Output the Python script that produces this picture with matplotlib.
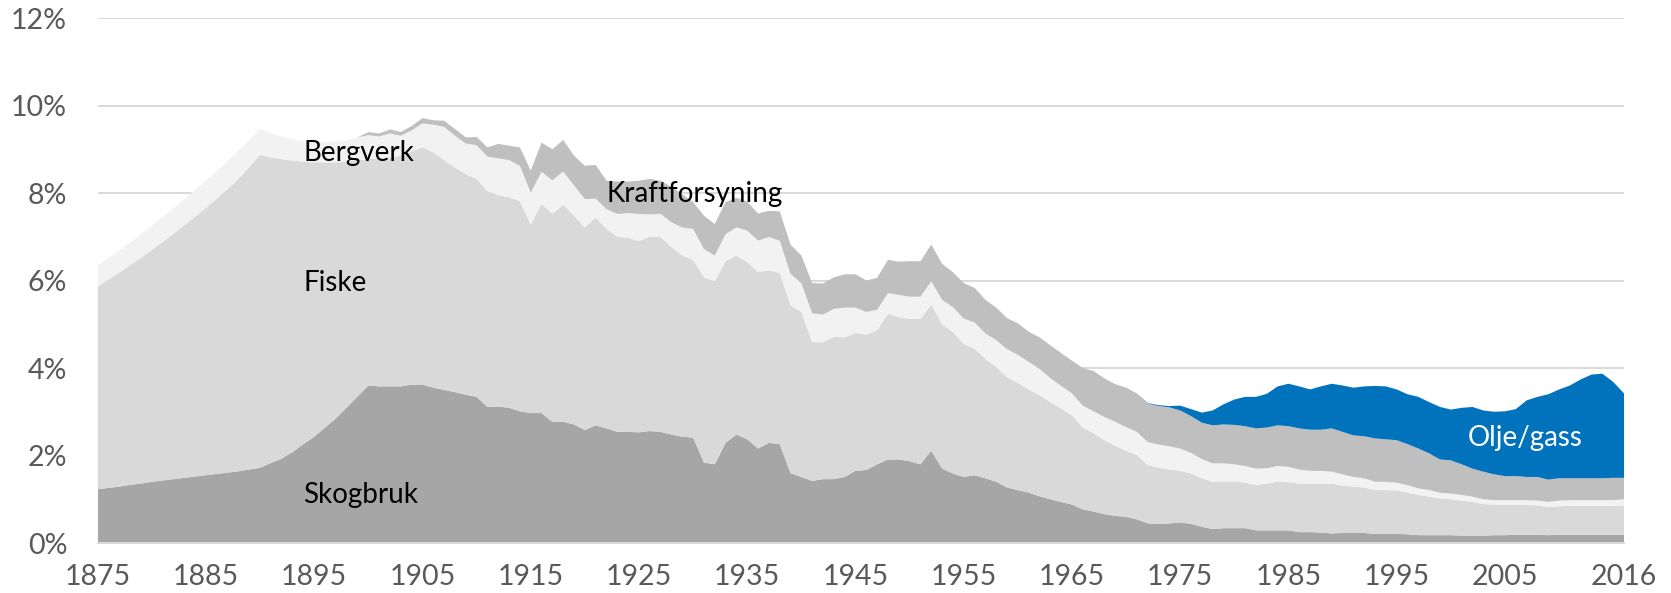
import matplotlib
matplotlib.use("Agg")
import matplotlib.pyplot as plt
from matplotlib.ticker import FuncFormatter

plt.rcParams['font.family'] = ['Lato', 'DejaVu Sans']

years = list(range(1875, 2017))

skogbruk = [
    1.24, 1.27, 1.30, 1.34, 1.37, 1.41, 1.44, 1.47, 1.50, 1.53,
    1.56, 1.59, 1.62, 1.65, 1.69, 1.73, 1.84, 1.94, 2.09, 2.27,
    2.44, 2.65, 2.86, 3.11, 3.36, 3.61, 3.59, 3.59, 3.59, 3.63,
    3.63, 3.56, 3.51, 3.46, 3.40, 3.35, 3.12, 3.13, 3.10, 3.02,
    2.98, 2.98, 2.78, 2.78, 2.72, 2.59, 2.70, 2.63, 2.55, 2.55,
    2.54, 2.57, 2.55, 2.49, 2.44, 2.42, 1.85, 1.81, 2.30, 2.49,
    2.38, 2.17, 2.30, 2.27, 1.61, 1.52, 1.43, 1.47, 1.47, 1.52,
    1.66, 1.68, 1.81, 1.92, 1.92, 1.88, 1.81, 2.12, 1.71, 1.60,
    1.52, 1.56, 1.49, 1.41, 1.28, 1.22, 1.16, 1.08, 1.01, 0.95,
    0.89, 0.78, 0.73, 0.67, 0.63, 0.61, 0.55, 0.46, 0.45, 0.46,
    0.48, 0.45, 0.38, 0.33, 0.35, 0.35, 0.35, 0.30, 0.30, 0.30,
    0.30, 0.26, 0.26, 0.25, 0.23, 0.24, 0.24, 0.24, 0.22, 0.22,
    0.22, 0.21, 0.19, 0.19, 0.19, 0.19, 0.18, 0.18, 0.18, 0.19,
    0.19, 0.20, 0.20, 0.20, 0.19, 0.20, 0.20, 0.20, 0.20, 0.20,
    0.20, 0.20,
]

fiske = [
    4.63, 4.76, 4.89, 5.02, 5.16, 5.30, 5.45, 5.61, 5.77, 5.94,
    6.11, 6.29, 6.48, 6.68, 6.91, 7.15, 6.98, 6.84, 6.66, 6.45,
    6.27, 6.06, 5.85, 5.62, 5.40, 5.17, 5.21, 5.23, 5.27, 5.33,
    5.42, 5.38, 5.25, 5.13, 5.04, 4.98, 4.93, 4.83, 4.81, 4.80,
    4.31, 4.78, 4.75, 4.96, 4.77, 4.63, 4.75, 4.56, 4.46, 4.43,
    4.37, 4.44, 4.45, 4.28, 4.14, 4.06, 4.23, 4.18, 4.15, 4.09,
    4.05, 4.03, 3.94, 3.91, 3.83, 3.77, 3.17, 3.13, 3.25, 3.19,
    3.15, 3.09, 3.06, 3.33, 3.25, 3.25, 3.32, 3.34, 3.30, 3.23,
    3.04, 2.89, 2.73, 2.62, 2.52, 2.45, 2.36, 2.31, 2.22, 2.13,
    2.04, 1.87, 1.79, 1.69, 1.60, 1.51, 1.47, 1.33, 1.28, 1.23,
    1.18, 1.15, 1.11, 1.08, 1.07, 1.07, 1.04, 1.03, 1.07, 1.11,
    1.10, 1.11, 1.10, 1.11, 1.14, 1.08, 1.06, 1.04, 1.00, 1.00,
    0.99, 0.95, 0.92, 0.88, 0.84, 0.82, 0.80, 0.77, 0.72, 0.70,
    0.69, 0.68, 0.68, 0.67, 0.64, 0.65, 0.66, 0.66, 0.66, 0.66,
    0.66, 0.67,
]

bergverk = [
    0.48, 0.49, 0.51, 0.52, 0.54, 0.55, 0.57, 0.58, 0.60, 0.61,
    0.62, 0.63, 0.64, 0.64, 0.61, 0.59, 0.55, 0.51, 0.48, 0.47,
    0.46, 0.46, 0.48, 0.49, 0.52, 0.55, 0.50, 0.55, 0.46, 0.48,
    0.55, 0.63, 0.76, 0.73, 0.70, 0.77, 0.79, 0.84, 0.85, 0.81,
    0.73, 0.73, 0.77, 0.76, 0.69, 0.65, 0.43, 0.45, 0.52, 0.57,
    0.62, 0.51, 0.53, 0.57, 0.64, 0.71, 0.65, 0.59, 0.62, 0.64,
    0.72, 0.72, 0.76, 0.74, 0.72, 0.66, 0.66, 0.63, 0.64, 0.68,
    0.58, 0.52, 0.47, 0.47, 0.51, 0.51, 0.51, 0.53, 0.56, 0.57,
    0.58, 0.60, 0.58, 0.62, 0.64, 0.64, 0.63, 0.60, 0.55, 0.52,
    0.50, 0.50, 0.50, 0.53, 0.55, 0.54, 0.53, 0.53, 0.53, 0.53,
    0.51, 0.47, 0.44, 0.42, 0.41, 0.39, 0.38, 0.38, 0.35, 0.36,
    0.35, 0.32, 0.30, 0.30, 0.27, 0.26, 0.22, 0.21, 0.19, 0.19,
    0.18, 0.17, 0.15, 0.15, 0.13, 0.13, 0.13, 0.12, 0.11, 0.10,
    0.11, 0.11, 0.11, 0.11, 0.12, 0.13, 0.13, 0.13, 0.13, 0.13,
    0.13, 0.14,
]

kraftforsyning = [0.0] * 25 + [
    0.07, 0.07, 0.09, 0.08, 0.10,
    0.12, 0.10, 0.14, 0.15, 0.14, 0.19, 0.21, 0.33, 0.33, 0.42,
    0.50, 0.67, 0.71, 0.72, 0.68, 0.76, 0.77, 0.65, 0.74, 0.72,
    0.76, 0.81, 0.76, 0.81, 0.76, 0.61, 0.76, 0.72, 0.73, 0.68,
    0.66, 0.62, 0.60, 0.67, 0.67, 0.63, 0.69, 0.71, 0.72, 0.76,
    0.76, 0.72, 0.73, 0.76, 0.76, 0.81, 0.81, 0.84, 0.82, 0.80,
    0.81, 0.79, 0.77, 0.74, 0.71, 0.72, 0.69, 0.72, 0.75, 0.75,
    0.75, 0.86, 0.92, 0.88, 0.86, 0.90, 0.88, 0.88, 0.88, 0.89,
    0.87, 0.84, 0.83, 0.87, 0.89, 0.90, 0.91, 0.92, 0.93, 0.93,
    0.93, 0.94, 0.94, 0.94, 0.99, 0.97, 0.95, 0.96, 0.99, 0.97,
    0.97, 0.94, 0.91, 0.84, 0.76, 0.76, 0.70, 0.64, 0.63, 0.59,
    0.55, 0.55, 0.53, 0.54, 0.51, 0.51, 0.50, 0.50, 0.50, 0.50,
    0.51, 0.49,
]

olje_gass = [0.0] * 97 + [
    0.01, 0.02, 0.03,
    0.11, 0.16, 0.23, 0.34, 0.46, 0.58, 0.67, 0.72, 0.77, 0.89,
    0.97, 0.96, 0.92, 0.99, 1.02, 1.06, 1.09, 1.14, 1.20, 1.21,
    1.16, 1.14, 1.18, 1.17, 1.20, 1.16, 1.29, 1.41, 1.40, 1.43,
    1.48, 1.53, 1.75, 1.83, 1.95, 2.03, 2.12, 2.26, 2.37, 2.39,
    2.19, 1.93,
]

series_names = ["Skogbruk", "Fiske", "Bergverk", "Kraftforsyning", "Olje/gass"]
colors = ["#a6a6a6", "#d9d9d9", "#f2f2f2", "#bfbfbf", "#0173bd"]
x_tick_labels = [1875, 1885, 1895, 1905, 1915, 1925, 1935, 1945, 1955, 1965,
                 1975, 1985, 1995, 2005, 2016]
y_ticks = [0, 2, 4, 6, 8, 10, 12]

fig = plt.figure(figsize=(16.71, 5.93), dpi=100)
ax = fig.add_axes([0.0585, 0.0835, 0.9134, 0.8856])

for y in y_ticks[1:]:
    ax.axhline(y, color="#d9d9d9", lw=1.4, zorder=0)

polys = ax.stackplot(years, skogbruk, fiske, bergverk, kraftforsyning, olje_gass,
                     colors=colors, labels=series_names, zorder=2)
for p in polys:
    p.set_linewidth(0)

ax.set_xlim(1875, 2016)
ax.set_ylim(0, 12)
ax.set_xticks(x_tick_labels)
ax.set_xticklabels([str(v) for v in x_tick_labels])
ax.set_yticks(y_ticks)
ax.yaxis.set_major_formatter(FuncFormatter(lambda v, p: f"{int(v)}%"))
ax.tick_params(axis="both", length=0, labelsize=20.5, colors="#595959")
ax.tick_params(axis="x", pad=15)
ax.tick_params(axis="y", pad=22)
for s in ["top", "right", "left"]:
    ax.spines[s].set_visible(False)
ax.spines["bottom"].set_color("#d9d9d9")
ax.spines["bottom"].set_linewidth(1.4)
ax.spines["bottom"].set_zorder(3)

txt = dict(fontsize=20, va="center", ha="left", zorder=5)
ax.text(1894.0, 8.93, "Bergverk", color="black", **txt)
ax.text(1894.0, 5.96, "Fiske", color="black", **txt)
ax.text(1894.0, 1.11, "Skogbruk", color="black", **txt)
ax.text(1922.0, 7.99, "Kraftforsyning", color="black", **txt)
ax.text(2001.6, 2.41, "Olje/gass", color="white", **txt)

fig.savefig("out.png", dpi=100)
